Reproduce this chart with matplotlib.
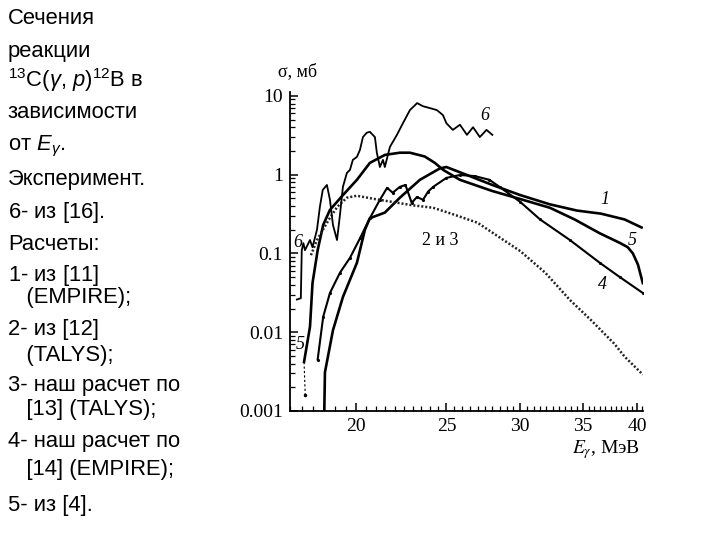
import matplotlib
matplotlib.use("Agg")
import matplotlib.pyplot as plt
from matplotlib.ticker import FixedLocator, NullFormatter, FixedFormatter
import numpy as np

plt.rcParams['mathtext.fontset'] = 'custom'
plt.rcParams['mathtext.rm'] = 'Liberation Sans'
plt.rcParams['mathtext.it'] = 'Liberation Sans:italic'
plt.rcParams['mathtext.sf'] = 'Liberation Sans'

# ---- data (E in MeV, sigma in mb) ----
e1 = [18.5, 18.53, 18.9, 19.37, 20.05, 20.45, 20.7, 21.48, 22.29, 23.42, 24.6, 25.0, 26.3, 28.0, 30.0, 32.27, 34.5, 36.6, 38.8, 40.58]
s1 = [0.001, 0.0031, 0.0106, 0.028, 0.076, 0.2, 0.28, 0.33, 0.51, 0.86, 1.2, 1.25, 0.99, 0.74, 0.55, 0.42, 0.35, 0.32, 0.27, 0.21]

e23 = [17.9, 18.17, 18.7, 19.1, 19.56, 20.05, 20.96, 21.9, 22.95, 24.2, 25.5, 27.0, 28.5, 30.0, 31.9, 33.9, 35.7, 37.8, 38.8, 40.58]
s23 = [0.095, 0.148, 0.266, 0.39, 0.51, 0.54, 0.49, 0.45, 0.41, 0.38, 0.31, 0.245, 0.16, 0.107, 0.057, 0.0257, 0.0143, 0.0072, 0.0049, 0.0029]

e4 = [18.2, 18.45, 18.76, 19.23, 19.71, 20.2, 20.7, 21.22, 21.6, 21.9, 22.29, 22.6, 22.95, 23.25, 23.6, 23.9, 24.2, 25.0, 25.85, 26.8, 27.8, 28.5, 30.0, 31.5, 33.9, 36.5, 38.35, 40.58]
s4 = [0.0045, 0.0157, 0.0315, 0.057, 0.088, 0.155, 0.28, 0.48, 0.68, 0.59, 0.70, 0.74, 0.44, 0.52, 0.48, 0.61, 0.70, 0.91, 0.99, 0.96, 0.86, 0.70, 0.45, 0.27, 0.148, 0.076, 0.05, 0.0315]

e5_tail = [17.65, 17.6]
s5_tail = [0.00158, 0.0042]
e5 = [17.6, 17.86, 17.97, 18.2, 18.45, 18.76, 19.37, 20.05, 20.7, 21.48, 22.29, 22.85, 23.7, 24.3, 24.8, 25.85, 28.0, 30.0, 32.27, 34.3, 36.5, 38.35, 39.1, 39.6, 40.1, 40.58]
s5 = [0.0042, 0.0118, 0.042, 0.11, 0.23, 0.357, 0.55, 0.86, 1.41, 1.78, 1.9, 1.9, 1.7, 1.41, 1.15, 0.86, 0.62, 0.49, 0.38, 0.27, 0.18, 0.136, 0.12, 0.1, 0.072, 0.042]

e6 = [17.29, 17.46, 17.5, 17.57, 17.64, 17.86, 17.97, 18.17, 18.3, 18.43, 18.62, 18.76, 18.9, 19.09, 19.23, 19.37, 19.56, 19.71, 19.85, 20.05, 20.2, 20.35, 20.54, 20.7, 20.96, 21.06, 21.22, 21.38, 21.48, 21.75, 22.13, 22.46, 22.85, 23.26, 23.59, 24.0, 24.42, 24.79, 25.0, 25.4, 25.85, 26.3, 26.7, 27.15, 27.6, 28.0]
s6 = [0.026, 0.027, 0.11, 0.135, 0.11, 0.148, 0.12, 0.2, 0.39, 0.64, 0.74, 0.48, 0.23, 0.148, 0.31, 0.70, 1.05, 1.15, 1.54, 1.68, 2.06, 3.0, 3.4, 3.5, 3.0, 1.9, 1.25, 1.54, 1.25, 2.25, 3.2, 4.5, 6.6, 8.1, 7.4, 7.0, 6.6, 5.7, 4.5, 3.7, 4.3, 3.2, 4.0, 3.0, 3.7, 3.2]

x_major = [20, 25, 30, 35, 40]
x_major_labels = ['20', '25', '30', '35', '40']
y_major = [0.001, 0.01, 0.1, 1, 10]
y_major_labels = ['0.001', '0.01', '0.1', '1', '10']

left_text = [
    ("Сечения", 18),
    ("реакции", 51),
    (r"$^{13}$C($\gamma$, $\mathit{p}$)$^{12}$B в", 80),
    ("зависимости", 113),
    (r"от $\mathit{E}_{\gamma}$.", 146),
    ("Эксперимент.", 180),
    (r"$\mathit{6}$- из [16].", 213),
    ("Расчеты:", 245),
    (r"$\mathit{1}$- из [11]", 275),
    ("   (EMPIRE);", 298),
    ("2- из [12]", 330),
    ("   (TALYS);", 355),
    ("3- наш расчет по", 385),
    ("   [13] (TALYS);", 410),
    ("4- наш расчет по", 442),
    ("   [14] (EMPIRE);", 470),
    ("5- из [4].", 506),
]

W, H = 720, 540
fig = plt.figure(figsize=(7.2, 5.4), dpi=100)
ax = fig.add_axes([290 / W, 1 - 411 / H, (643 - 290) / W, (411 - 92) / H])
ax.set_xscale('log')
ax.set_yscale('log')
ax.set_xlim(17.0, 40.6)
ax.set_ylim(1e-3, 11.2)

k = 'black'
ax.plot(e1, s1, color=k, lw=1.9, solid_capstyle='butt')
ax.plot(e5, s5, color=k, lw=1.9)
ax.plot(e5_tail, s5_tail, color=k, lw=0.8, ls=(0, (2, 2)), marker='.', markersize=3, markevery=[0])
ax.plot(e4, s4, color=k, lw=1.5, marker='.', markersize=2.5)
ax.plot(e23, s23, color='#222222', lw=1.8, ls=(0, (0.8, 0.8)))
ax.plot(e6, s6, color=k, lw=1.3)

serif = 'Liberation Serif'
ax.text(27.5, 5.7, '6', fontfamily=serif, style='italic', fontsize=13, ha='center', va='center')
ax.text(37.0, 0.48, '1', fontfamily=serif, style='italic', fontsize=13, ha='center', va='center')
ax.text(39.5, 0.148, '5', fontfamily=serif, style='italic', fontsize=13, ha='center', va='center')
ax.text(36.7, 0.040, '4', fontfamily=serif, style='italic', fontsize=13, ha='center', va='center')
ax.text(24.6, 0.148, '2 и 3', fontfamily=serif, fontsize=13, ha='center', va='center')
ax.text(17.34, 0.136, '6', fontfamily=serif, style='italic', fontsize=13, ha='center', va='center')
ax.text(17.42, 0.0069, '5', fontfamily=serif, style='italic', fontsize=13, ha='center', va='center')

ax.xaxis.set_major_locator(FixedLocator(x_major))
ax.xaxis.set_major_formatter(FixedFormatter(x_major_labels))
minor_x = [v for v in np.arange(17.0, 40.6, 0.5) if v not in x_major]
ax.xaxis.set_minor_locator(FixedLocator(minor_x))
ax.xaxis.set_minor_formatter(NullFormatter())
ax.yaxis.set_major_locator(FixedLocator(y_major))
ax.yaxis.set_major_formatter(FixedFormatter(y_major_labels))
ax.yaxis.set_minor_locator(matplotlib.ticker.LogLocator(base=10, subs=np.arange(2, 10)))
ax.yaxis.set_minor_formatter(NullFormatter())

for s in ['top', 'right']:
    ax.spines[s].set_visible(False)
for s in ['left', 'bottom']:
    ax.spines[s].set_linewidth(1.3)
ax.tick_params(which='major', direction='in', length=6, width=1.1, labelsize=14, pad=5)
ax.tick_params(which='minor', direction='in', length=3.5, width=0.9)
for lab in ax.get_xticklabels() + ax.get_yticklabels():
    lab.set_fontfamily(serif)

fig.text(278 / W, 1 - 72 / H, 'σ, мб', fontfamily=serif, fontsize=13, ha='left', va='center')
fig.text(640 / W, 1 - 450 / H, r'$\mathit{E}_{\gamma}$, МэВ', fontfamily=serif, fontsize=14, ha='right', va='center',
         math_fontfamily='stix')

for txt, ypx in left_text:
    fig.text(8 / W, 1 - ypx / H, txt, fontfamily='Liberation Sans', fontsize=15.8, ha='left', va='center')

fig.savefig('out.png', dpi=100)
